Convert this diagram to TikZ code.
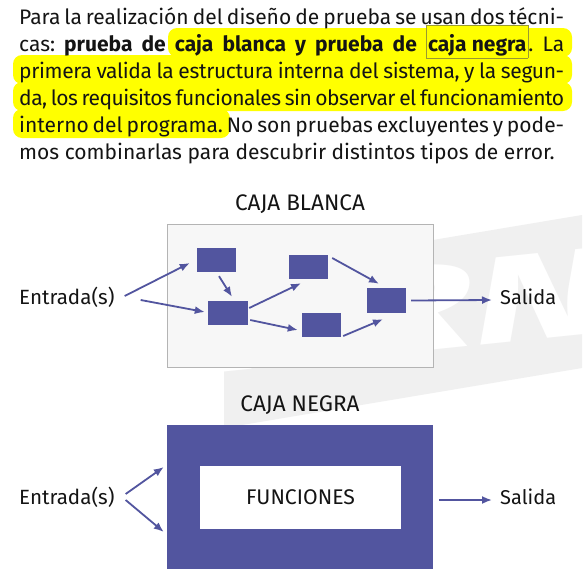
\documentclass[tikz,border=0pt]{standalone}
\usepackage{fontspec}
\setmainfont{Fira Sans}
\usetikzlibrary{arrows.meta,calc}
\definecolor{pur}{HTML}{52559F}
\definecolor{hl}{HTML}{FFFF00}
\definecolor{hlbd}{HTML}{9A9A30}
\definecolor{bandc}{HTML}{F0F0F0}
\definecolor{boxbg}{HTML}{F7F7F7}
\definecolor{boxbd}{HTML}{B4B4B4}
\definecolor{ink}{HTML}{141414}
\newcommand\jline[1]{\hbox to 545pt{\spaceskip=0.25em plus 1em minus 0.17em\relax #1}}
\setlength{\fboxsep}{1.5pt}
\setlength{\fboxrule}{0.6pt}
\frenchspacing
\tikzset{
  txt/.style={font=\fontsize{21}{25}\selectfont, inner sep=0pt, anchor=base west, text=ink},
  lab/.style={font=\fontsize{20}{24}\selectfont, inner sep=0pt, text=ink},
  ttl/.style={font=\fontsize{22.5}{26}\selectfont, inner sep=0pt, text=ink},
  pbox/.style={fill=pur, inner sep=0pt, minimum width=39pt, minimum height=24pt},
  arr/.style={draw=pur, line width=1.8pt, -{Latex[length=10pt,width=8pt]}},
  hlbar/.style={fill=hl, rounded corners=9pt},
}
\begin{document}
\begin{tikzpicture}[x=1pt,y=-1pt]
\useasboundingbox (0,0) rectangle (582,584);
\fill[white] (0,0) rectangle (582,584);
% watermark band
\fill[bandc] (224,275) -- (582,215) -- (582,368) -- (224,428) -- cycle;
\begin{scope}
\clip (224,275) -- (582,215) -- (582,368) -- (224,428) -- cycle;
\node[xscale=1.6, xslant=0.11, yslant=0.168, anchor=base east, font=\fontsize{126}{126}\selectfont\bfseries, text=white, inner sep=0pt] (wm) at (604,332.5) {LEARN};
\end{scope}
% highlight
\fill[hlbar] (168,28) rectangle (572,57);
\fill[hlbar] (13,55) rectangle (572,84);
\fill[hlbar] (13,82) rectangle (572,111);
\fill[hlbar] (13,109) rectangle (230,138);
% paragraph
\node[txt] (l1) at (19,24.5) {\jline{Para la realización del diseño de prueba se usan dos técni-}};
\node[txt] (l2) at (19,51.4) {\jline{cas: \textbf{prueba de caja blanca y prueba de \fcolorbox{hlbd}{hl}{\rule[-3.8pt]{0pt}{28pt}caja negra}}. La}};
\node[txt] (l3) at (19,78.3) {\addfontfeatures{LetterSpace=-1.6}\jline{primera valida la estructura interna del sistema, y la segun-}};
\node[txt] (l4) at (19,105.2) {\addfontfeatures{LetterSpace=-2.4}\jline{da, los requisitos funcionales sin observar el funcionamiento}};
\node[txt] (l5) at (19,132.1) {\jline{interno del programa. No son pruebas excluyentes y pode-}};
\node[txt] (l6) at (19,159) {mos combinarlas para descubrir distintos tipos de error.};
% caja blanca
\node[ttl] (tb) at (300,204) {CAJA BLANCA};
\node[fill=boxbg, draw=boxbd, line width=1pt, minimum width=266pt, minimum height=143pt, inner sep=0pt] (wb) at (300,295.5) {};
\node[pbox] (b1) at (216.5,260) {};
\node[pbox, minimum width=40pt] (b2) at (228,313) {};
\node[pbox] (b3) at (308.5,267) {};
\node[pbox] (b4) at (321.5,325) {};
\node[pbox, minimum height=25pt] (b5) at (386.5,300.5) {};
\node[lab, anchor=west, font=\fontsize{20.6}{24}\selectfont] (ent1) at (19,297) {Entrada(s)};
\node[lab, anchor=west] (sal1) at (500,297) {Salida};
\draw[arr] ($(ent1.east)+(10,-1)$) -- ($(b1.west)+(-7,3)$);
\draw[arr] ($(ent1.east)+(26,3)$) -- ($(b2.west)+(-3,-1)$);
\draw[arr] ($(b1.south)+(2.5,4)$) -- ($(b2.north)+(4,-4)$);
\draw[arr] ($(b2.east)+(1,-5)$) -- ($(b3.south)+(-7.5,4)$);
\draw[arr] ($(b2.east)+(2,7)$) -- ($(b4.west)+(-4,5)$);
\draw[arr] ($(b3.east)+(4,-9)$) -- ($(b5.north)+(-7.5,-4)$);
\draw[arr] ($(b4.east)+(2,11)$) -- ($(b5.south)+(-3.5,6)$);
\draw[arr] ($(b5.east)+(5,0)$) -- ($(sal1.west)+(-8,3)$);
% caja negra
\node[ttl] (tn) at (300,405) {CAJA NEGRA};
\node[fill=pur, minimum width=266pt, minimum height=144pt, inner sep=0pt] (nb) at (300,497) {};
\node[fill=white, minimum width=201pt, minimum height=63pt, inner sep=0pt, font=\fontsize{21.2}{25}\selectfont, text=ink] (nf) at (300.5,497.5) {FUNCIONES};
\node[lab, anchor=west, font=\fontsize{20.6}{24}\selectfont] (ent2) at (19,497) {Entrada(s)};
\node[lab, anchor=west] (sal2) at (500,497) {Salida};
\draw[arr] ($(ent2.east)+(11,-3)$) -- ($(nb.west)+(-3,-30)$);
\draw[arr] ($(ent2.east)+(11,3)$) -- ($(nb.west)+(-3,35)$);
\draw[arr] ($(nb.east)+(6,3)$) -- ($(sal2.west)+(-8,3)$);
\end{tikzpicture}
\end{document}
